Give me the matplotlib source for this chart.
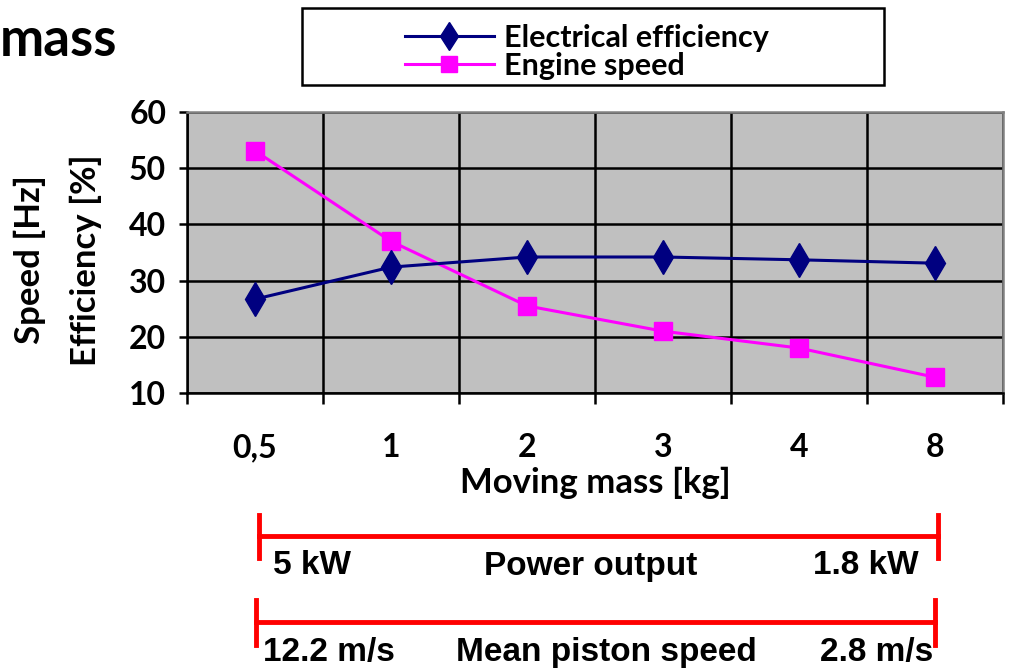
import matplotlib
matplotlib.use("Agg")
import matplotlib.pyplot as plt
from matplotlib.patches import Rectangle
from matplotlib.lines import Line2D
import matplotlib.transforms as mtransforms
from matplotlib import font_manager

# data
masses = ["0,5", "1", "2", "3", "4", "8"]
efficiency = [26.7, 32.4, 34.2, 34.2, 33.7, 33.1]
speed = [53.1, 37.0, 25.5, 21.0, 18.0, 12.8]

yticks = [10, 20, 30, 40, 50, 60]

names = set(f.name for f in font_manager.fontManager.ttflist)
narrow = "Liberation Sans Narrow" if "Liberation Sans Narrow" in names else "Liberation Sans"

plt.rcParams['font.family'] = ['Lato', 'DejaVu Sans']
plt.rcParams['font.weight'] = 'bold'
plt.rcParams['axes.labelweight'] = 'bold'

FS = 23

fig = plt.figure(figsize=(10.09, 6.70), dpi=100)
ax = fig.add_axes([187/1009, 1-393/670, 816/1009, 281/670])
ax.set_facecolor("#C0C0C0")

x = list(range(len(masses)))
ax.plot(x, efficiency, color="#000080", lw=2.2, marker="d", ms=17,
        label="Electrical efficiency", zorder=4)
ax.plot(x, speed, color="#FF00FF", lw=2.2, marker="s", ms=13,
        label="Engine speed", zorder=3)

ax.set_xlim(-0.5, len(masses) - 0.5)
ax.set_ylim(10, 60)
ax.set_yticks(yticks)
ax.set_xticks([i - 0.5 for i in range(len(masses) + 1)])
ax.set_xticklabels([])
ax.set_xticks(x, minor=True)
ax.set_xticklabels(masses, minor=True, fontweight="bold")
ax.tick_params(axis="x", which="major", length=8, width=1.8, direction="out")
ax.tick_params(axis="x", which="minor", length=0, pad=29, labelsize=FS)
ax.tick_params(axis="y", length=6, width=1.8, labelsize=FS, pad=9)
for t in ax.get_yticklabels():
    t.set_fontweight("bold")
ax.grid(True, which="major", color="black", lw=1.8)
ax.set_axisbelow(True)
for s in ["left", "bottom"]:
    ax.spines[s].set_linewidth(1.8)
for s in ["top", "right"]:
    ax.spines[s].set_color("#808080")
    ax.spines[s].set_linewidth(1.8)

ax.set_xlabel("Moving mass [kg]", fontsize=25, labelpad=3, fontweight="bold")
fig.text(30/1009, 1-260/670, "Speed [Hz]", rotation=90, fontsize=25,
         ha="center", va="center", fontweight="bold")
fig.text(86/1009, 1-260/670, "Efficiency [%]", rotation=90, fontsize=25,
         ha="center", va="center", fontweight="bold")

# cropped title fragment
fig.text(0, 1-40/670, "mass", fontsize=38, ha="left", va="center",
         fontweight="bold")

# legend with its own box
fig.patches.append(Rectangle((302/1009, 1-85/670), 582/1009, 77/670,
                             transform=fig.transFigure, fill=False,
                             ec="black", lw=1.8))
fig.legend(loc="center left", bbox_to_anchor=(405/1009, 1-52/670),
           frameon=False, prop={"size": 22, "weight": "bold"},
           handlelength=2.9, handletextpad=0.35, markerscale=0.85,
           labelspacing=0.0, borderpad=0, borderaxespad=0)

# red range bars below the axis
tr = mtransforms.blended_transform_factory(ax.transData, fig.transFigure)
bars = [
    (0.03, 5.02, 1-536/670, 1-515/670, 1-558/670,
     [("5 kW", 0.13, "left"), ("Power output", 2.47, "center"), ("1.8 kW", 4.88, "right")],
     1-566/670),
    (0.01, 5.0, 1-622/670, 1-600/670, 1-645/670,
     [("12.2 m/s", 0.06, "left"), ("Mean piston speed", 2.58, "center"), ("2.8 m/s", 4.99, "right")],
     1-652/670),
]
for x0, x1, yl, ytop, ybot, labels, yt in bars:
    for seg in [([x0, x1], [yl, yl]), ([x0, x0], [ytop, ybot]), ([x1, x1], [ytop, ybot])]:
        fig.add_artist(Line2D(seg[0], seg[1], transform=tr, color="#FF0000", lw=3.5))
    for txt, xt, ha in labels:
        fig.text(xt, yt, txt, transform=tr, ha=ha, va="center", fontsize=24,
                 family=[narrow, "DejaVu Sans"], fontweight="bold")

fig.savefig("out.png", dpi=100)
